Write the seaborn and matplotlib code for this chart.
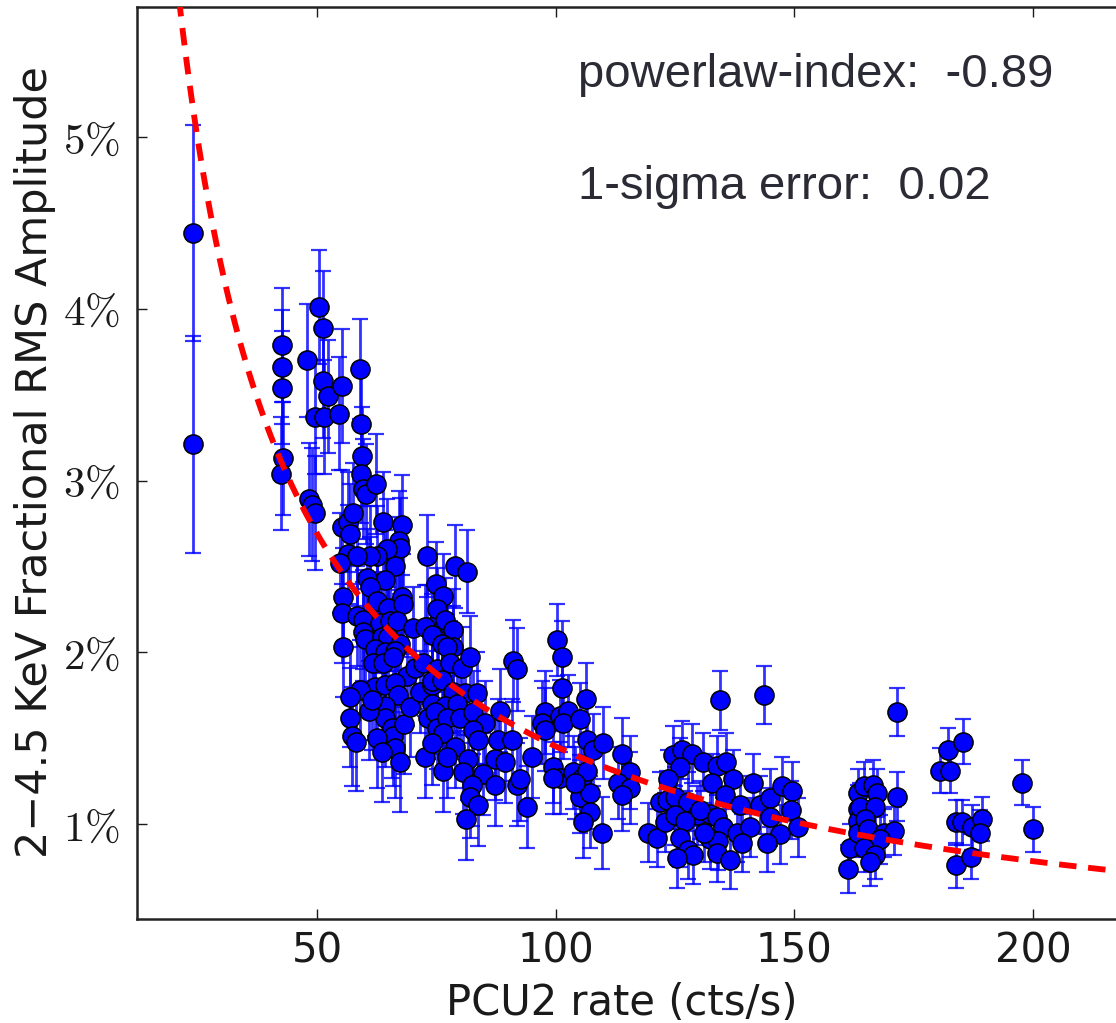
import matplotlib
matplotlib.use('Agg')
import matplotlib.pyplot as plt
import matplotlib.ticker as mticker
import seaborn as sns
import numpy as np
import pandas as pd

# fractional rms (%) vs PCU2 rate, grouped by rate band
# each band: list of (rate, rms%) and the typical 1-sigma error of that band
band_24 = [(24.0, 4.44), (24.0, 3.21)]
err_24 = 0.63

band_40 = [(42.7, 3.79), (42.7, 3.66), (42.7, 3.54), (42.9, 3.13), (42.5, 3.04),
           (47.9, 3.70), (50.4, 4.01), (51.3, 3.89), (51.3, 3.58), (52.3, 3.49),
           (49.6, 3.37), (51.5, 3.37), (55.2, 3.55), (54.6, 3.39),
           (48.3, 2.89), (48.9, 2.86), (49.6, 2.81), (55.2, 2.73)]
err_40 = 0.33

band_55 = [(59.0, 3.65), (59.2, 3.33), (59.4, 3.14), (59.2, 3.04), (59.6, 2.95),
           (60.3, 2.92), (62.4, 2.98), (63.8, 2.76), (56.5, 2.76), (57.5, 2.81),
           (56.9, 2.69), (67.8, 2.74), (67.2, 2.65), (67.4, 2.61), (64.7, 2.60),
           (62.6, 2.56), (61.1, 2.56), (56.5, 2.57), (58.4, 2.56), (54.8, 2.52),
           (66.4, 2.50), (64.3, 2.42), (60.5, 2.43), (61.1, 2.38), (55.4, 2.32),
           (55.2, 2.23), (62.6, 2.30), (64.9, 2.26), (67.8, 2.32), (68.0, 2.28),
           (58.4, 2.21), (59.6, 2.19), (63.2, 2.17), (65.3, 2.18), (66.8, 2.18),
           (59.6, 2.12), (60.1, 2.08), (63.6, 2.09), (64.9, 2.09), (67.4, 2.05),
           (55.4, 2.03), (62.2, 2.02), (64.3, 2.00), (66.4, 2.01), (61.7, 1.94),
           (63.8, 1.94), (65.9, 1.97), (68.9, 1.86), (62.2, 1.80), (64.3, 1.81),
           (66.4, 1.82), (67.0, 1.75), (59.0, 1.78), (56.9, 1.74), (64.3, 1.69),
           (64.3, 1.62), (65.7, 1.56), (65.9, 1.51), (66.4, 1.44), (56.9, 1.62),
           (57.3, 1.51), (62.6, 1.50), (63.6, 1.42), (67.4, 1.36), (58.2, 1.48),
           (60.8, 1.66), (61.5, 1.72), (68.3, 1.58), (69.5, 1.68)]
err_55 = 0.29

band_70 = [(70.1, 2.14), (73.1, 2.15), (75.4, 2.17), (73.1, 2.56), (74.9, 2.40),
           (76.4, 2.33), (78.9, 2.50), (81.4, 2.47), (75.2, 2.25), (72.6, 2.15),
           (74.1, 2.10), (76.8, 2.19), (78.5, 2.13), (76.2, 2.05), (78.5, 2.03),
           (77.3, 2.03), (70.5, 1.91), (72.2, 1.94), (75.2, 1.90), (77.9, 1.94),
           (80.4, 1.91), (82.1, 1.97), (71.6, 1.77), (74.1, 1.81), (74.1, 1.83),
           (76.2, 1.84), (78.5, 1.77), (81.0, 1.76), (83.5, 1.76), (74.1, 1.70),
           (76.8, 1.69), (79.4, 1.70), (73.3, 1.62), (74.7, 1.65), (75.2, 1.56),
           (77.3, 1.62), (80.0, 1.62), (82.7, 1.65), (85.2, 1.59), (88.4, 1.66),
           (91.1, 1.95), (91.9, 1.90), (76.4, 1.53), (82.7, 1.55), (72.6, 1.39),
           (74.1, 1.47), (76.4, 1.31), (78.9, 1.45), (83.8, 1.49), (87.9, 1.49),
           (90.9, 1.49), (77.3, 1.39), (81.7, 1.38), (87.3, 1.38), (89.4, 1.36),
           (95.1, 1.39), (80.6, 1.30), (84.8, 1.29), (82.5, 1.23), (87.3, 1.23),
           (91.9, 1.23), (92.6, 1.26), (82.1, 1.16), (83.8, 1.11), (94.0, 1.10),
           (81.2, 1.03), (97.8, 1.65), (97.2, 1.59), (97.8, 1.55)]
err_70 = 0.24

band_100 = [(100.3, 2.07), (101.4, 1.97), (101.4, 1.79), (100.9, 1.63), (102.6, 1.66),
            (101.6, 1.59), (99.5, 1.33), (100.9, 1.27), (99.5, 1.27), (103.7, 1.30),
            (105.6, 1.27), (106.6, 1.31), (105.1, 1.61), (106.6, 1.49), (107.9, 1.43),
            (106.4, 1.73), (110.0, 1.47), (105.1, 1.16), (107.2, 1.18), (107.2, 1.07),
            (105.8, 1.01), (109.7, 0.95), (113.9, 1.41), (115.6, 1.30), (113.1, 1.24),
            (115.6, 1.21), (113.9, 1.17), (104.1, 1.24)]
err_100 = 0.21

band_120 = [(119.4, 0.95), (121.3, 0.92), (134.5, 1.72), (143.7, 1.75), (124.6, 1.40),
            (126.5, 1.43), (128.6, 1.41), (130.9, 1.36), (126.1, 1.33), (133.9, 1.34),
            (135.6, 1.36), (123.6, 1.26), (137.2, 1.26), (132.8, 1.24), (141.4, 1.24),
            (121.9, 1.13), (123.4, 1.14), (125.1, 1.16), (127.8, 1.13), (129.7, 1.05),
            (132.4, 1.06), (135.5, 1.17), (138.7, 1.11), (142.9, 1.11), (145.0, 1.15),
            (147.5, 1.22), (149.6, 1.19), (123.0, 1.01), (125.1, 1.05), (127.2, 1.02),
            (130.3, 1.08), (133.9, 1.04), (135.1, 0.98), (138.0, 0.95), (140.8, 0.98),
            (145.0, 1.04), (147.1, 0.94), (149.2, 1.08), (150.8, 0.98), (126.1, 0.92),
            (132.4, 0.91), (134.1, 0.90), (127.8, 0.85), (128.8, 0.82), (133.9, 0.83),
            (136.6, 0.79), (139.1, 0.89), (144.3, 0.89), (125.5, 0.80), (131.0, 0.95)]
err_120 = 0.17

band_160 = [(161.7, 0.86), (161.3, 0.74), (163.4, 1.18), (163.4, 1.09), (163.4, 1.02),
            (163.4, 0.95), (171.6, 1.65), (171.6, 1.16), (164.5, 1.22), (166.4, 1.23),
            (167.4, 1.18), (163.8, 1.10), (167.0, 1.10), (164.9, 1.03), (165.5, 0.97),
            (168.7, 0.95), (170.8, 0.96), (168.0, 0.91), (164.5, 0.86), (167.0, 0.82),
            (165.9, 0.78)]
err_160 = 0.14

band_180 = [(182.1, 1.43), (180.6, 1.31), (182.7, 1.31), (185.4, 1.48), (183.8, 1.01),
            (185.2, 1.01), (187.3, 0.98), (189.4, 1.03), (189.0, 0.95), (183.8, 0.76),
            (187.1, 0.81), (197.6, 1.24), (200.1, 0.97)]
err_180 = 0.13

# power-law fit shown in the figure
pl_index = -0.89
pl_sigma = 0.02
pl_norm = 87.5   # rms% at 1 ct/s

bands = [(band_24, err_24), (band_40, err_40), (band_55, err_55), (band_70, err_70),
         (band_100, err_100), (band_120, err_120), (band_160, err_160), (band_180, err_180)]
rows = []
for pts, err in bands:
    for rate, rms in pts:
        rows.append({'rate': rate, 'rms': rms, 'err': err})
df = pd.DataFrame(rows)

sns.set_style('ticks')
plt.rcParams['mathtext.fontset'] = 'cm'
plt.rcParams['font.family'] = ['DejaVu Sans']

fig = plt.figure(figsize=(11.16, 10.23), dpi=100)
# right spine falls outside the canvas (original figure is cropped there)
ax = fig.add_axes([137 / 1116, 104 / 1023, 1060 / 1116, 912 / 1023])

ax.errorbar(df['rate'], df['rms'], yerr=df['err'], fmt='none', ecolor='blue',
            elinewidth=2.0, capsize=6, capthick=1.6, alpha=0.8, zorder=2)
sns.scatterplot(data=df, x='rate', y='rms', ax=ax, color='blue', edgecolor='black',
                linewidth=1.1, s=190, zorder=3, legend=False)

fit = pd.DataFrame({'rate': np.linspace(18, 240, 300)})
fit['rms'] = pl_norm * fit['rate'] ** pl_index
sns.lineplot(data=fit, x='rate', y='rms', ax=ax, color='red', linewidth=4.2,
             linestyle=(0, (3, 2)), zorder=4)

ax.set_xlim(12.29, 234.36)
ax.set_ylim(0.447, 5.757)
ax.set_xticks([50, 100, 150, 200])
ax.set_yticks([1, 2, 3, 4, 5])
ax.yaxis.set_major_formatter(mticker.FuncFormatter(lambda v, p: r'$%d\%%$' % v))
ax.tick_params(direction='in', length=7, width=1, top=True, right=True,
               labelsize=29, pad=9, colors='#1a1a1a')
ax.tick_params(axis='y', labelsize=31, pad=12)
for sp in ax.spines.values():
    sp.set_linewidth(1.8)
    sp.set_color('#222222')

ax.set_xlabel('')
ax.set_ylabel('')
fig.text(622 / 1116, 1 - 1015 / 1023, 'PCU2 rate (cts/s)', ha='center', va='baseline',
         fontsize=30, color='#1a1a1a')
fig.text(35 / 1116, 1 - 462 / 1023, '2\u22124.5 KeV Fractional RMS Amplitude',
         rotation=90, ha='center', va='center', fontsize=31, color='#1a1a1a')

fig.text(578 / 1116, 1 - 75 / 1023, 'powerlaw-index:  %.2f' % pl_index, ha='left',
         va='center', fontsize=34, color='#2b2b35', family='Liberation Sans')
fig.text(578 / 1116, 1 - 187 / 1023, '1-sigma error:  %.2f' % pl_sigma, ha='left',
         va='center', fontsize=34, color='#2b2b35', family='Liberation Sans')

fig.savefig('out.png', dpi=100)
